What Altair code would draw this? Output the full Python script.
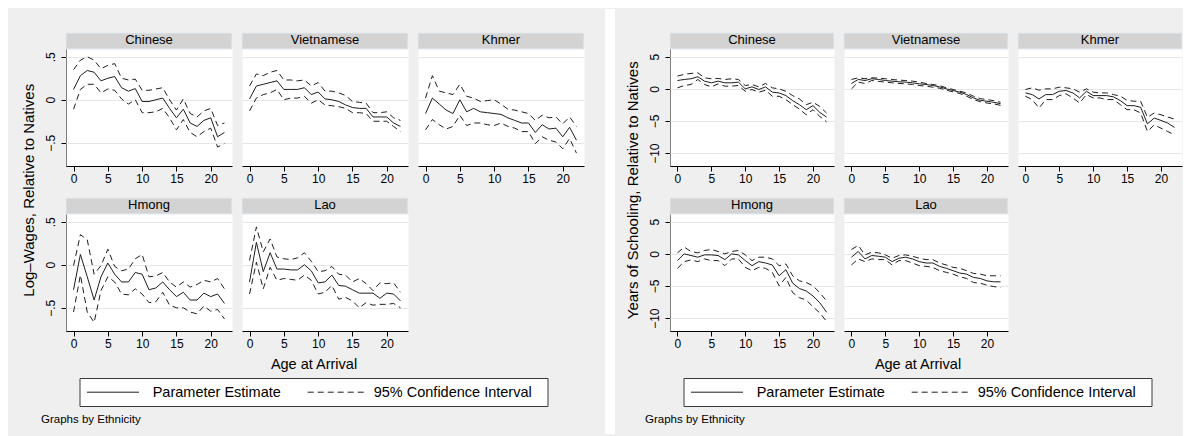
import altair as alt
import pandas as pd

F = "Liberation Sans"
ETH = ["Chinese", "Vietnamese", "Khmer", "Hmong", "Lao"]
AGE = list(range(23))

# ---- Log-wages (left graph) ----
W_EST = {
    "Chinese": [0.12,0.28,0.34,0.32,0.22,0.25,0.27,0.14,0.10,0.13,-0.02,-0.02,0.0,0.02,-0.10,-0.21,-0.11,-0.27,-0.31,-0.24,-0.21,-0.43,-0.38],
    "Vietnamese": [0.01,0.16,0.18,0.20,0.22,0.12,0.12,0.12,0.14,0.06,0.09,0.01,0.0,-0.02,-0.06,-0.09,-0.10,-0.10,-0.20,-0.20,-0.20,-0.27,-0.31],
    "Khmer": [-0.16,0.02,-0.05,-0.12,-0.16,0.0,-0.14,-0.10,-0.14,-0.15,-0.16,-0.17,-0.21,-0.24,-0.27,-0.27,-0.38,-0.29,-0.34,-0.33,-0.43,-0.32,-0.47],
    "Hmong": [-0.29,0.12,-0.14,-0.41,-0.14,0.02,-0.11,-0.20,-0.20,-0.09,-0.11,-0.29,-0.27,-0.20,-0.29,-0.37,-0.32,-0.41,-0.41,-0.33,-0.37,-0.34,-0.45],
    "Lao": [-0.20,0.26,-0.08,0.14,-0.05,-0.05,-0.06,-0.06,0.0,-0.07,-0.21,-0.20,-0.12,-0.24,-0.25,-0.29,-0.33,-0.33,-0.33,-0.39,-0.33,-0.34,-0.42],
}
W_HI = {
    "Chinese": [0.35,0.46,0.50,0.46,0.36,0.40,0.42,0.25,0.23,0.24,0.11,0.11,0.125,0.14,0.0,-0.12,0.01,-0.16,-0.20,-0.13,-0.10,-0.30,-0.27],
    "Vietnamese": [0.16,0.30,0.28,0.32,0.34,0.23,0.23,0.22,0.23,0.16,0.20,0.10,0.10,0.08,0.05,-0.02,-0.03,-0.04,-0.15,-0.15,-0.14,-0.21,-0.24],
    "Khmer": [0.02,0.28,0.10,0.08,0.06,0.18,0.04,0.02,-0.02,-0.01,0.0,-0.05,-0.11,-0.12,-0.14,-0.16,-0.24,-0.18,-0.21,-0.20,-0.28,-0.20,-0.31],
    "Hmong": [-0.01,0.35,0.29,-0.11,-0.01,0.18,-0.02,-0.07,-0.05,0.07,0.12,-0.14,-0.13,-0.09,-0.20,-0.26,-0.20,-0.26,-0.23,-0.18,-0.20,-0.16,-0.28],
    "Lao": [0.05,0.44,0.15,0.30,0.09,0.07,0.06,0.08,0.14,0.04,-0.08,-0.07,-0.02,-0.11,-0.12,-0.20,-0.16,-0.22,-0.30,-0.21,-0.22,-0.21,-0.32],
}
W_LO = {
    "Chinese": [-0.11,0.12,0.18,0.18,0.08,0.125,0.11,0.01,-0.05,0.0,-0.15,-0.15,-0.14,-0.10,-0.21,-0.35,-0.23,-0.38,-0.43,-0.37,-0.33,-0.55,-0.51],
    "Vietnamese": [-0.13,0.02,0.06,0.08,0.12,0.0,0.02,0.02,0.04,-0.04,0.0,-0.06,-0.07,-0.08,-0.10,-0.15,-0.15,-0.16,-0.25,-0.25,-0.25,-0.31,-0.37],
    "Khmer": [-0.35,-0.23,-0.29,-0.34,-0.31,-0.18,-0.30,-0.27,-0.27,-0.29,-0.30,-0.27,-0.31,-0.33,-0.37,-0.37,-0.51,-0.43,-0.47,-0.49,-0.57,-0.45,-0.62],
    "Hmong": [-0.55,-0.12,-0.55,-0.67,-0.30,-0.14,-0.20,-0.34,-0.35,-0.28,-0.34,-0.44,-0.43,-0.32,-0.47,-0.50,-0.50,-0.55,-0.57,-0.48,-0.54,-0.52,-0.63],
    "Lao": [-0.34,0.03,-0.28,-0.03,-0.18,-0.16,-0.17,-0.18,-0.12,-0.18,-0.34,-0.32,-0.24,-0.40,-0.38,-0.42,-0.50,-0.44,-0.47,-0.46,-0.46,-0.45,-0.50],
}

# ---- Years of schooling (right graph) ----
S_EST = {
    "Chinese": [1.3,1.46,1.57,1.88,1.2,0.94,1.2,0.94,0.94,1.05,0.0,0.31,-0.1,0.31,-0.52,-0.63,-1.05,-1.83,-2.46,-3.24,-2.61,-3.66,-4.39],
    "Vietnamese": [0.84,1.46,1.3,1.57,1.46,1.3,1.2,1.1,1.05,0.94,0.78,0.68,0.52,0.31,0.0,-0.26,-0.52,-0.89,-1.41,-1.78,-1.93,-2.09,-2.3],
    "Khmer": [-0.63,-0.89,-1.57,-0.89,-0.89,-0.37,-0.26,-0.63,-1.41,-0.37,-1.05,-1.05,-1.05,-1.25,-1.83,-2.61,-2.61,-2.87,-5.44,-4.55,-4.91,-5.33,-6.01],
    "Hmong": [-1.05,0.0,-0.26,-0.52,-0.16,-0.16,-0.26,-0.89,0.0,-0.16,-1.05,-1.84,-1.21,-1.42,-1.73,-3.41,-2.46,-4.56,-5.4,-5.77,-6.55,-7.6,-9.07],
    "Lao": [-0.52,0.37,-0.79,-0.26,-0.37,-0.52,-1.21,-0.68,-0.52,-0.79,-1.21,-1.42,-1.42,-1.94,-2.25,-2.62,-2.99,-3.15,-3.67,-3.83,-4.2,-4.35,-4.35],
}
S_HI = {
    "Chinese": [1.99,2.25,2.4,2.5,1.72,1.57,1.62,1.46,1.57,1.46,0.52,0.68,0.31,0.84,0.16,0.0,-0.37,-1.05,-1.57,-2.46,-2.09,-2.72,-3.76],
    "Vietnamese": [1.46,1.72,1.57,1.72,1.67,1.57,1.46,1.36,1.3,1.2,1.05,0.84,0.68,0.52,0.16,-0.1,-0.37,-0.63,-1.15,-1.52,-1.67,-1.83,-2.09],
    "Khmer": [-0.1,0.16,-0.21,0.0,0.0,0.26,0.16,0.0,-0.52,0.0,-0.52,-0.63,-0.63,-0.89,-1.15,-1.78,-1.93,-1.93,-4.44,-3.76,-4.03,-4.39,-4.7],
    "Hmong": [0.16,1.05,0.37,0.16,0.52,0.68,0.37,0.0,0.37,0.52,-0.16,-1.05,-0.52,-0.52,-0.79,-1.84,-1.57,-3.41,-4.2,-4.46,-4.98,-6.03,-7.34],
    "Lao": [0.68,1.31,-0.16,0.26,0.16,-0.16,-0.68,-0.26,-0.16,-0.37,-0.68,-0.89,-0.89,-1.42,-1.73,-2.1,-2.25,-2.62,-3.04,-3.15,-3.41,-3.41,-3.41],
}
S_LO = {
    "Chinese": [0.16,0.52,0.68,1.46,0.68,0.31,0.78,0.42,0.42,0.52,-0.37,-0.1,-0.52,-0.21,-1.15,-1.15,-1.67,-2.46,-3.14,-4.03,-3.24,-4.29,-5.12],
    "Vietnamese": [0.0,1.05,0.84,1.3,1.15,1.05,0.94,0.84,0.78,0.68,0.52,0.42,0.26,0.1,-0.21,-0.47,-0.73,-1.15,-1.67,-1.99,-2.2,-2.35,-2.56],
    "Khmer": [-1.15,-1.67,-2.98,-1.67,-1.67,-1.05,-0.78,-1.41,-2.2,-0.89,-1.41,-1.41,-1.67,-1.67,-2.46,-3.24,-3.24,-3.76,-6.64,-5.59,-6.12,-6.64,-7.16],
    "Hmong": [-2.25,-1.21,-0.94,-1.21,-0.79,-1.05,-1.05,-1.84,-0.79,-0.79,-2.1,-2.62,-2.1,-2.25,-2.88,-4.98,-3.67,-6.03,-6.82,-7.18,-8.23,-9.18,-10.49],
    "Lao": [-1.73,-0.79,-1.21,-0.79,-0.89,-0.89,-1.73,-1.05,-1.05,-1.42,-1.84,-1.94,-2.1,-2.62,-2.88,-3.15,-3.57,-3.83,-4.46,-4.56,-4.88,-5.09,-5.24],
}

X_TICKS = [0, 5, 10, 15, 20]
W_TICKS = [-0.5, 0, 0.5]
S_TICKS = [-10, -5, 0, 5]

BG = "#efefef"
STRIP_H = 16
CELL_H = 133
LINE_C = "#1e1e1e"
NOVIEW = alt.ViewBackground(fill="transparent", stroke="transparent")


def long_df(est, lo, hi):
    rows = []
    for e in ETH:
        for i, a in enumerate(AGE):
            for s, src in (("est", est), ("lo", lo), ("hi", hi)):
                rows.append({"eth": e, "age": a, "s": s, "v": src[e][i]})
    return pd.DataFrame(rows)


def graph(est, lo, hi, ytitle, ydomain, yticks, ylabexpr, cw):
    df = long_df(est, lo, hi)
    xs = alt.Scale(domain=[-1.1, 23.1], nice=False, zero=False)
    ys = alt.Scale(domain=ydomain, nice=False, zero=False)
    xax = alt.Axis(values=X_TICKS, title=None, grid=False, labelPadding=2)
    yax_kw = dict(values=yticks, title=None, grid=True, labelAngle=270,
                  labelAlign="center", labelBaseline="alphabetic", labelPadding=6.5)
    if ylabexpr:
        yax_kw["labelExpr"] = ylabexpr
    yax = alt.Axis(**yax_kw)
    base = alt.Chart()
    one = "datum.age == 0 && datum.s == 'est'"
    strip = base.mark_rect(fill="#d3d3d3", stroke="#e2eaee", strokeWidth=1).encode(
        x=alt.value(0), x2=alt.value(cw), y=alt.value(0), y2=alt.value(STRIP_H)
    ).transform_filter(one)
    stext = base.mark_text(font=F, fontSize=13, color="black", align="center",
                           baseline="alphabetic").encode(
        text="eth:N", x=alt.value(cw / 2), y=alt.value(10.8)
    ).transform_filter(one)
    ci = base.mark_line(color=LINE_C, strokeWidth=1, strokeDash=[6, 4]).encode(
        x=alt.X("age:Q", scale=xs, axis=xax),
        y=alt.Y("v:Q", scale=ys, axis=yax),
        detail="s:N",
    ).transform_filter("datum.s != 'est'")
    pe = base.mark_line(color=LINE_C, strokeWidth=1).encode(
        x=alt.X("age:Q", scale=xs, axis=xax),
        y=alt.Y("v:Q", scale=ys, axis=yax),
    ).transform_filter("datum.s == 'est'")
    lay = alt.layer(ci, pe, strip, stext, data=df).properties(width=cw, height=CELL_H)
    hdr = alt.Header(labels=False, labelExpr="''", labelFontSize=1, labelPadding=0)
    fc = lay.facet(
        facet=alt.Facet("eth:N", sort=ETH, title=None, header=hdr),
        columns=3,
        spacing={"row": 32, "column": 10},
        bounds="flush",
        title=alt.TitleParams(text=ytitle, orient="left", anchor="middle", font=F,
                              fontSize=15, fontWeight="normal", color="black", offset=8),
    ).resolve_axis(x="independent")
    return fc


def legend_block():
    one = pd.DataFrame({"k": [0]})
    lb = alt.Chart(one)
    txt = dict(font=F, color="black", baseline="alphabetic")
    xtitle = lb.mark_text(text="Age at Arrival", fontSize=14.5, align="center", **txt).encode(
        x=alt.value(248), y=alt.value(17.5))
    box = lb.mark_rect(fill="white", stroke="#3a3a3a", strokeWidth=1).encode(
        x=alt.value(14), x2=alt.value(482), y=alt.value(27.5), y2=alt.value(55.5))
    solid = lb.mark_rule(color=LINE_C, strokeWidth=1).encode(
        x=alt.value(21), x2=alt.value(73), y=alt.value(41.2))
    t1 = lb.mark_text(text="Parameter Estimate", fontSize=14.5, align="left", **txt).encode(
        x=alt.value(86.7), y=alt.value(46.2))
    dashed = lb.mark_rule(color=LINE_C, strokeWidth=1, strokeDash=[6, 4]).encode(
        x=alt.value(241.7), x2=alt.value(298), y=alt.value(41.2))
    t2 = lb.mark_text(text="95% Confidence Interval", fontSize=14.5, align="left", **txt).encode(
        x=alt.value(307.7), y=alt.value(46.2))
    note = lb.mark_text(text="Graphs by Ethnicity", fontSize=11.5, align="left", **txt).encode(
        x=alt.value(-25), y=alt.value(71.5))
    return alt.layer(xtitle, box, solid, t1, dashed, t2, note).properties(
        width=490, height=84, view=NOVIEW)


def spacer(w, h):
    one = pd.DataFrame({"k": [0]})
    return alt.Chart(one).mark_rect(opacity=0).encode(
        x=alt.value(0), x2=alt.value(w), y=alt.value(0), y2=alt.value(h)
    ).properties(width=w, height=h, view=NOVIEW)


TOTAL_H = 425
one_df = pd.DataFrame({"k": [0]})
gap = alt.Chart(one_df).mark_rect(color="white").encode(
    x=alt.value(19), x2=alt.value(29), y=alt.value(0), y2=alt.value(TOTAL_H)
).properties(width=38, height=TOTAL_H, view=NOVIEW)

w_ydom = [-0.77, 0.59 + STRIP_H * 1.36 / 117]
s_ydom = [-12.0, 6.2 + STRIP_H * 18.2 / 117]

left = alt.vconcat(
    spacer(10, 21),
    graph(W_EST, W_LO, W_HI, "Log\u2013Wages, Relative to Natives", w_ydom, W_TICKS,
          "datum.value == 0 ? '0' : (datum.value > 0 ? '.5' : '\u2212.5')", 166),
    legend_block(),
    spacing=0,
)
right = alt.vconcat(
    spacer(10, 21),
    graph(S_EST, S_LO, S_HI, "Years of Schooling, Relative to Natives", s_ydom, S_TICKS,
          None, 164),
    legend_block(),
    spacing=0,
)

chart = alt.hconcat(left, gap, right, spacing=0).properties(
    background=BG,
    padding={"left": 13, "top": 0, "right": 0, "bottom": 0},
).configure_view(
    fill="white", stroke="transparent"
).configure_axis(
    labelFont=F, labelFontSize=12, labelColor="black",
    domainColor="black", domainWidth=1, tickColor="black", tickSize=5, tickWidth=1,
    gridColor="#e6e6e6", gridWidth=1,
).configure_header(
    labels=False
).configure_headerFacet(
    labels=False
)

chart.save("out.html", embed_options={"renderer": "svg", "actions": False})
